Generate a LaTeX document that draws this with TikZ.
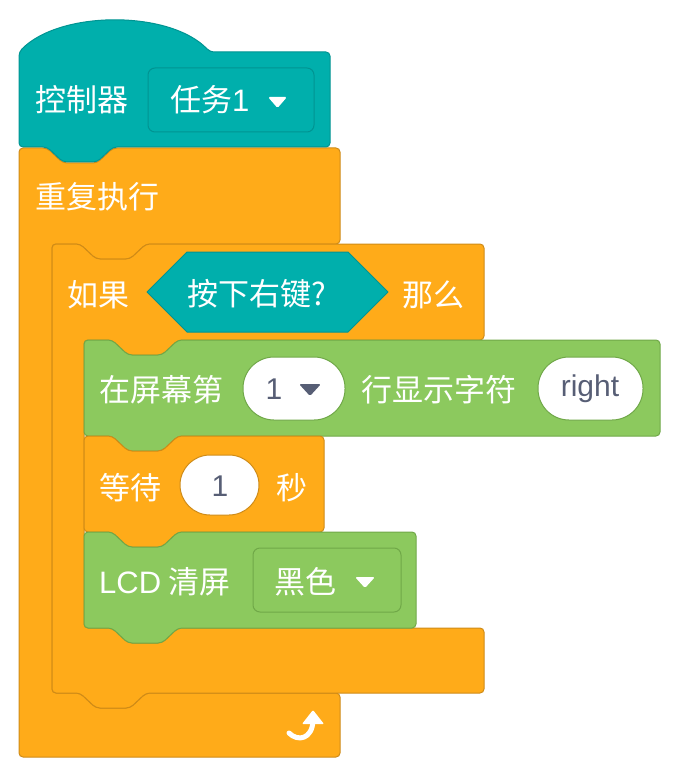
\documentclass[tikz,border=0pt]{standalone}
\usepackage{fontspec}
\setmainfont{Noto Sans CJK SC}
\newfontfamily\latinfont{Liberation Sans}
\usetikzlibrary{arrows.meta}
\definecolor{ctrlorange}{RGB}{255,171,25}
\definecolor{ctrledge}{RGB}{207,139,23}
\definecolor{hatteal}{RGB}{0,175,172}
\definecolor{hatedge}{RGB}{0,148,146}
\definecolor{lcdgreen}{RGB}{140,201,94}
\definecolor{lcdedge}{RGB}{112,168,72}
\definecolor{slotgrey}{RGB}{87,94,117}
% notch along a top edge (left to right) and a tab along a bottom edge (right to left)
\newcommand{\notchlr}[2]{-- (#1+28,#2) -- (#1+44,#2+15) -- (#1+78,#2+15) -- (#1+94,#2)}
\newcommand{\notchrl}[2]{-- (#1+94,#2) -- (#1+78,#2+15) -- (#1+44,#2+15) -- (#1+28,#2)}

\begin{document}
\begin{tikzpicture}[x=1pt,y=-1pt,line join=round,
  ctrl/.style={fill=ctrlorange,draw=ctrledge,line width=1pt,rounded corners=4pt},
  hat/.style={fill=hatteal,draw=hatedge,line width=1pt,rounded corners=4pt},
  pen/.style={fill=lcdgreen,draw=lcdedge,line width=1pt,rounded corners=4pt},
  lbl/.style={text=white,anchor=west,inner sep=0pt,font=\fontsize{31}{36}\selectfont},
  val/.style={text=slotgrey,inner sep=0pt,font=\fontsize{30}{36}\selectfont\latinfont}]
\useasboundingbox (0,0) rectangle (680,778);
% forever loop
\draw[ctrl] (19,148) \notchlr{19}{148} -- (340,148) -- (340,244) \notchrl{52}{244} -- (52,244)
  -- (52,693) \notchlr{52}{693} -- (340,693) -- (340,757) -- (19,757) -- cycle;
\draw[white,line width=5pt,line cap=round] (289,733) .. controls (298,742) and (312,739) .. (313,721);
\fill[white,rounded corners=1pt] (302,724) -- (313,710) -- (324,724) -- cycle;
% hat block
\draw[hat] (19,52) .. controls (60,10) and (170,10) .. (210,52) -- (330,52) -- (330,147)
  \notchrl{19}{147} -- (19,147) -- cycle;
\draw[fill=hatteal,draw=hatedge,line width=1pt,rounded corners=7pt] (148,68) rectangle (314,132);
\fill[white,rounded corners=1.5pt] (268,97) -- (287,97) -- (277.5,108) -- cycle;
\node[lbl] (ctrlname) at (35,100) {控制器};
\node[lbl] (taskname) at (170,100) {任务{\latinfont 1}};
\node[lbl] (loopname) at (35,197) {重复执行};
% if block
\draw[ctrl] (52,244) \notchlr{52}{244} -- (484,244) -- (484,340) \notchrl{84}{340} -- (84,340)
  -- (84,628) \notchlr{84}{628} -- (484,628) -- (484,693) \notchrl{52}{693} -- (52,693) -- cycle;
\draw[fill=hatteal,draw=hatedge,line width=1pt] (147,292) -- (187,252) -- (348,252) -- (388,292)
  -- (348,332) -- (187,332) -- cycle;
\node[lbl] (ifword) at (67,295) {如果};
\node[lbl] (keycond) at (187,294) {按下右键?};
\node[lbl] (thenword) at (402,295) {那么};
% show text block
\draw[pen] (84,340) \notchlr{84}{340} -- (660,340) -- (660,436) \notchrl{84}{436} -- (84,436) -- cycle;
\draw[fill=white,draw=lcdedge,line width=1pt,rounded corners=31pt] (243,357) rectangle (345,420);
\draw[fill=white,draw=lcdedge,line width=1pt,rounded corners=31pt] (538,357) rectangle (643,420);
\fill[slotgrey,rounded corners=1.5pt] (299,384) -- (321,384) -- (310,396) -- cycle;
\node[lbl] (showword) at (99,390) {在屏幕第};
\node[val] (rownum) at (274,389) {1};
\node[lbl] (charword) at (361,390) {行显示字符};
\node[val] (showtext) at (590,389) {right};
% wait block
\draw[ctrl] (84,436) \notchlr{84}{436} -- (324,436) -- (324,532) \notchrl{84}{532} -- (84,532) -- cycle;
\draw[fill=white,draw=ctrledge,line width=1pt,rounded corners=30pt] (180,455) rectangle (259,515);
\node[lbl] (waitword) at (99,488) {等待};
\node[val] (waitnum) at (220,486) {1};
\node[lbl] (secword) at (276,488) {秒};
% clear screen block
\draw[pen] (84,532) \notchlr{84}{532} -- (416,532) -- (416,628) \notchrl{84}{628} -- (84,628) -- cycle;
\draw[fill=lcdgreen,draw=lcdedge,line width=1pt,rounded corners=7pt] (253,548) rectangle (401,612);
\fill[white,rounded corners=1.5pt] (355,577) -- (375,577) -- (365,588) -- cycle;
\node[lbl] (clearword) at (99,582) {{\latinfont LCD} 清屏};
\node[lbl] (colorname) at (274,582) {黑色};
\end{tikzpicture}
\end{document}
